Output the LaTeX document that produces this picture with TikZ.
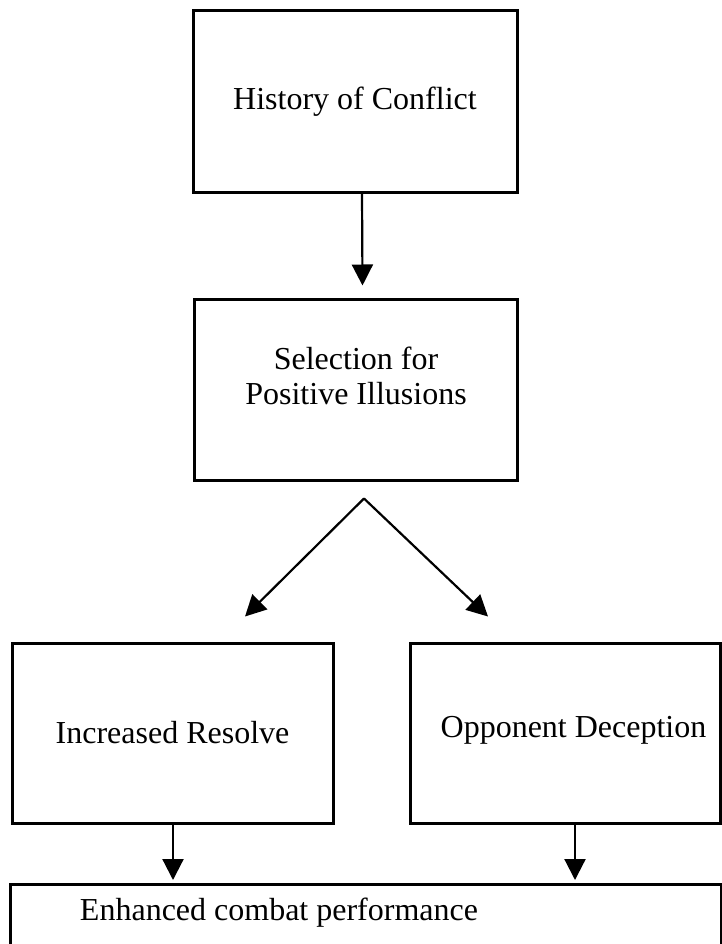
\documentclass[tikz,border=0pt]{standalone}
\usepackage{fontspec}
\setmainfont{Liberation Serif}
\usetikzlibrary{arrows.meta}
\begin{document}
\begin{tikzpicture}[x=1pt,y=-1pt,
  box/.style={draw, line width=3pt, inner sep=0pt, font=\fontsize{32}{35}\selectfont, align=center},
  txt/.style={inner sep=0pt, font=\fontsize{32}{35}\selectfont, align=center},
  arr/.style={line width=2.2pt, -{Triangle[length=21pt,width=21pt]}}]
\useasboundingbox (0,0) rectangle (722,944);
\node[box, minimum width=324pt, minimum height=181pt] (hist) at (355,101.5) {History of Conflict};
\node[box, minimum width=323pt, minimum height=181pt] (sel) at (355.5,389.5) {};
\node[txt] (seltxt) at (356,375.5) {Selection for\\Positive Illusions};
\node[box, minimum width=321pt, minimum height=180pt] (res) at (172.5,733) {Increased Resolve};
\node[box, minimum width=310pt, minimum height=180pt] (dec) at (565,733) {};
\node[txt] (dectxt) at (573.5,730) {Opponent Deception};
\node[box, minimum width=711pt, minimum height=107pt, anchor=north west] (enh) at (9,883) {};
\node[txt] (enhtxt) at (279,913) {Enhanced combat performance};
\coordinate (apex) at ([xshift=8.5pt,yshift=-17pt]sel.south);
\coordinate (ltip) at ([xshift=72.5pt,yshift=25pt]res.north);
\coordinate (rtip) at ([xshift=-77pt,yshift=25pt]dec.north);
\draw[arr] ([xshift=7pt]hist.south) -- ([xshift=7pt,yshift=12pt]sel.north);
\draw[arr] (apex) -- (ltip);
\draw[arr] (apex) -- (rtip);
\draw[arr, shorten >=3pt] ([xshift=0.5pt]res.south) -- ([xshift=0.5pt]res.south |- enh.north);
\draw[arr, shorten >=3pt] ([xshift=10pt]dec.south) -- ([xshift=10pt]dec.south |- enh.north);
\end{tikzpicture}
\end{document}
